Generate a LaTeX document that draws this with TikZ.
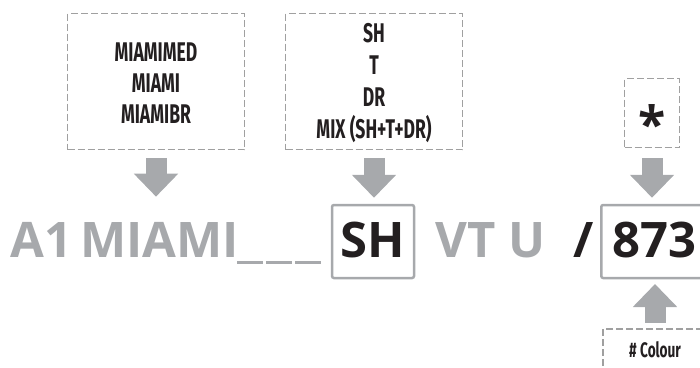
\documentclass[tikz,border=0pt]{standalone}
\usepackage{fontspec}
\newfontfamily\rowfont{Open Sans}
\newfontfamily\condfont[FakeStretch=0.65]{Fira Sans}
\usetikzlibrary{arrows.meta}
\definecolor{codegray}{HTML}{A7A9AC}
\definecolor{dashgray}{HTML}{A0A0A0}
\definecolor{codeblack}{HTML}{231F20}
\tikzset{
	listbox/.style={draw=dashgray, line width=1.6pt, dash pattern=on 7pt off 3pt,
		minimum width=177pt, minimum height=136pt, align=center, text=codeblack,
		font=\condfont\bfseries\fontsize{27}{31}\selectfont},
	codepart/.style={inner sep=0pt, anchor=base west, text=codegray,
		font=\rowfont\bfseries\fontsize{49}{49}\selectfont},
	codebox/.style={draw=codegray, line width=2.5pt, rounded corners=2pt,
		minimum height=73pt, text height=35pt, text depth=4pt, text=codeblack,
		font=\rowfont\bfseries\fontsize{49}{49}\selectfont},
	fatarrow/.style={draw=codegray, line width=21pt, -{Triangle[length=23pt,width=43pt]}},
}
\begin{document}
\begin{tikzpicture}[x=1pt,y=-1pt]
	\useasboundingbox (0,0) rectangle (700,367);
	\clip (0,0) rectangle (700,367);
	% boxes above
	\node (place) at (156,81.5) [listbox, text height=83pt, text depth=0pt] {MIAMIMED\\MIAMI\\MIAMIBR};
	\node (type)  at (374,81.5) [listbox, text height=113pt, text depth=0pt,
		font=\condfont\bfseries\fontsize{27}{32}\selectfont] {SH\\T\\DR\\MIX (SH+T+DR)};
	\node (size)  at (652,113)  [listbox, minimum width=55pt, minimum height=69pt,
		text height=58pt, text depth=0pt,
		font=\rowfont\bfseries\fontsize{50}{50}\selectfont] {*};
	%
	% code row
	\node (a1)    at (10,257)  [codepart] {A1};
	\node (miami) at (80,257)  [codepart] {MIAMI};
	\draw[codegray, line width=3pt, dash pattern=on 25.5pt off 3.5pt] (237,262) -- (321,262);
	\node (sh)    at (373,241.5) [codebox, minimum width=82pt] {SH};
	\node (vtu)   at (435,257) [codepart] {VT U};
	\node (slash) at (573,257) [codepart, text=codeblack] {/};
	\node (colornum) at (654,241.5) [codebox, minimum width=105.5pt] {873};
	%
	% box below
	\node (colour) at (655,350) [listbox, minimum width=104pt, minimum height=42pt,
		font=\condfont\bfseries\fontsize{21}{21}\selectfont] {\#\,Colour};
	%
	\draw[fatarrow] ([yshift=-7.5pt]place.south) -- ([yshift=25pt]place.south |- miami.north);
	\draw[fatarrow] ([yshift=-7.5pt]type.south) -- ([yshift=6pt]type.south |- sh.north);
	\draw[fatarrow] ([yshift=-10pt]size.south) -- ([yshift=6pt]size.south |- colornum.north);
	\draw[fatarrow] ([yshift=5.5pt]colour.north) -- ([yshift=-4.75pt]colour.north |- colornum.south);
\end{tikzpicture}
\end{document}
